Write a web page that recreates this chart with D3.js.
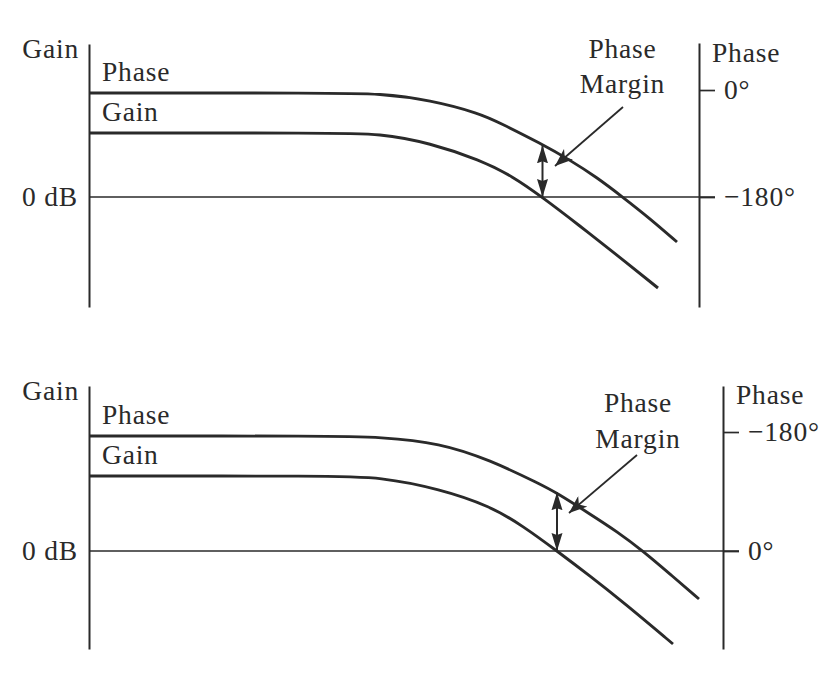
<!DOCTYPE html>
<html>
<head>
<meta charset="utf-8">
<script src="https://cdn.jsdelivr.net/npm/d3@7/dist/d3.min.js"></script>
<style>
  html, body { margin: 0; padding: 0; background: #fff; }
  svg { display: block; }
  text { font-family: "Liberation Serif", "Times New Roman", serif; font-size: 27.5px; letter-spacing: 0.8px; fill: #2a2a2a; }
</style>
</head>
<body>
<svg id="chart" width="829" height="677"></svg>
<script>
// ---------- DATA (x = log frequency, decades from the gain axis) ----------
// Top panel
const topGainX   = [0, 2.41, 2.91, 3.41, 3.91, 4.24, 4.53, 4.91, 5.24, 5.69];
const topGainDb  = [32, 32, 31.75, 27, 18.5, 10.25, 0, -14.5, -27.5, -45.5];
const topPhaseX  = [0, 2.41, 2.91, 3.41, 3.91, 4.11, 4.51, 4.81, 5.08, 5.33, 5.61, 5.88];
const topPhaseDeg = [-5, -5, -5.9, -16.8, -39.5, -55.5, -89.2, -117.8, -147.2, -179.2, -216.2, -255.7];
const topPhaseTicks = [0, -180];
const topPhaseTickLabels = ["0°", "−180°"];

// Bottom panel
const botGainX   = [0, 2.41, 2.91, 3.51, 4.01, 4.34, 4.68, 5.01, 5.34, 5.84];
const botGainDb  = [37.5, 37.5, 37, 31, 22.5, 12.5, 0, -12.5, -25.5, -46.5];
const botPhaseX  = [0, 2.41, 2.91, 3.51, 4.01, 4.51, 4.68, 5.01, 5.28, 5.54, 5.81, 6.10];
const botPhaseDeg = [-174, -174, -172.4, -163.4, -137.6, -101.3, -87.7, -56, -29.5, 0, 34.8, 72.6];
const botPhaseTicks = [-180, 0];
const botPhaseTickLabels = ["−180°", "0°"];

// Phase-margin annotations (crossover frequency and phase there)
const crossoverX = [4.535, 4.68];
const phaseAtCrossover = [-93, -89];
const gainTickLabels = ["0 dB"];

// ---------- LAYOUT ----------
const svg = d3.select("#chart");
const INK = "#2a2a2a";

const defs = svg.append("defs");
defs.append("marker")
  .attr("id", "dbl").attr("viewBox", "0 0 18 12")
  .attr("refX", 18).attr("refY", 6)
  .attr("markerWidth", 18).attr("markerHeight", 12)
  .attr("markerUnits", "userSpaceOnUse")
  .attr("orient", "auto-start-reverse")
  .append("path").attr("d", "M0,0.5 L18,6 L0,11.5 L2,6 Z").attr("fill", INK);
defs.append("marker")
  .attr("id", "ann").attr("viewBox", "0 0 18 14")
  .attr("refX", 18).attr("refY", 7)
  .attr("markerWidth", 18).attr("markerHeight", 14)
  .attr("markerUnits", "userSpaceOnUse")
  .attr("orient", "auto")
  .append("path").attr("d", "M0,0 L18,7 L0,14 L5,7 Z").attr("fill", INK);

const panels = [
  {
    gx: topGainX, gy: topGainDb, px: topPhaseX, py: topPhaseDeg,
    xDomain: [0, 6.1], xRange: [89, 699],
    gainDomain: [-55, 76.5], yRange: [307, 44],
    phaseDomain: [-365, 79.1], phaseRange: [307, 43],
    ticks: topPhaseTicks, tickLabels: topPhaseTickLabels,
    cross: crossoverX[0], crossPhase: phaseAtCrossover[0],
    ann: { tail: [5.34, 45], tip: [4.66, 15.5], textX: 5.335, l1: 69.5, l2: 52 }
  },
  {
    gx: botGainX, gy: botGainDb, px: botPhaseX, py: botPhaseDeg,
    xDomain: [0, 6.34], xRange: [89, 723],
    gainDomain: [-49, 82.5], yRange: [649, 386],
    phaseDomain: [-249.6, 148.2], phaseRange: [386, 649],
    ticks: botPhaseTicks, tickLabels: botPhaseTickLabels,
    cross: crossoverX[1], crossPhase: phaseAtCrossover[1],
    ann: { tail: [5.48, 48], tip: [4.80, 19], textX: 5.49, l1: 69.5, l2: 51.5 }
  }
];

panels.forEach(p => {
  const x = d3.scaleLinear().domain(p.xDomain).range(p.xRange);
  const yG = d3.scaleLinear().domain(p.gainDomain).range(p.yRange);
  const yP = d3.scaleLinear().domain(p.phaseDomain).range(p.phaseRange);
  const g = svg.append("g");
  const xL = p.xRange[0], xR = p.xRange[1];

  // 0 dB reference line
  g.append("line")
    .attr("x1", xL).attr("x2", xR + 16)
    .attr("y1", yG(0)).attr("y2", yG(0))
    .attr("stroke", INK).attr("stroke-width", 1.7);

  // Left (gain) axis
  const left = g.append("g").attr("transform", `translate(${xL},0)`)
    .call(d3.axisLeft(yG).tickValues([0]).tickFormat((d, i) => gainTickLabels[i])
      .tickSize(0).tickSizeOuter(0).tickPadding(11));
  left.select(".domain").attr("stroke", INK).attr("stroke-width", 2);
  left.selectAll("text").attr("fill", INK);

  // Right (phase) axis
  const right = g.append("g").attr("transform", `translate(${xR},0)`)
    .call(d3.axisRight(yP).tickValues(p.ticks).tickFormat((d, i) => p.tickLabels[i])
      .tickSize(16).tickSizeOuter(0).tickPadding(9));
  right.select(".domain").attr("stroke", INK).attr("stroke-width", 2);
  right.selectAll(".tick line").attr("stroke", INK).attr("stroke-width", 1.7);
  right.selectAll("text").attr("fill", INK);

  // Axis titles
  const yTop = p.yRange[1];
  g.append("text").attr("x", xL - 10).attr("y", yTop + 14).attr("text-anchor", "end").text("Gain");
  g.append("text").attr("x", xR + 13).attr("y", yTop + 18).text("Phase");

  // Curves
  const line = d3.line().curve(d3.curveBasis);
  const phasePts = p.px.map((v, i) => [x(v), yP(p.py[i])]);
  const gainPts = p.gx.map((v, i) => [x(v), yG(p.gy[i])]);
  g.append("path").attr("d", line(phasePts)).attr("fill", "none")
    .attr("stroke", INK).attr("stroke-width", 2.9).attr("stroke-linejoin", "round");
  g.append("path").attr("d", line(gainPts)).attr("fill", "none")
    .attr("stroke", INK).attr("stroke-width", 2.9).attr("stroke-linejoin", "round");

  // Curve labels
  g.append("text").attr("x", xL + 13).attr("y", yP(p.py[0]) - 12).text("Phase");
  g.append("text").attr("x", xL + 13).attr("y", yG(p.gy[0]) - 12).text("Gain");

  // Double arrow (phase margin)
  g.append("line")
    .attr("x1", x(p.cross)).attr("x2", x(p.cross))
    .attr("y1", yG(0)).attr("y2", yP(p.crossPhase))
    .attr("stroke", INK).attr("stroke-width", 2)
    .attr("marker-start", "url(#dbl)").attr("marker-end", "url(#dbl)");

  // Annotation arrow and text
  g.append("line")
    .attr("x1", x(p.ann.tail[0])).attr("y1", yG(p.ann.tail[1]))
    .attr("x2", x(p.ann.tip[0])).attr("y2", yG(p.ann.tip[1]))
    .attr("stroke", INK).attr("stroke-width", 1.8)
    .attr("marker-end", "url(#ann)");
  g.append("text").attr("x", x(p.ann.textX)).attr("y", yG(p.ann.l1))
    .attr("text-anchor", "middle").text("Phase");
  g.append("text").attr("x", x(p.ann.textX)).attr("y", yG(p.ann.l2))
    .attr("text-anchor", "middle").text("Margin");
});
</script>
</body>
</html>
